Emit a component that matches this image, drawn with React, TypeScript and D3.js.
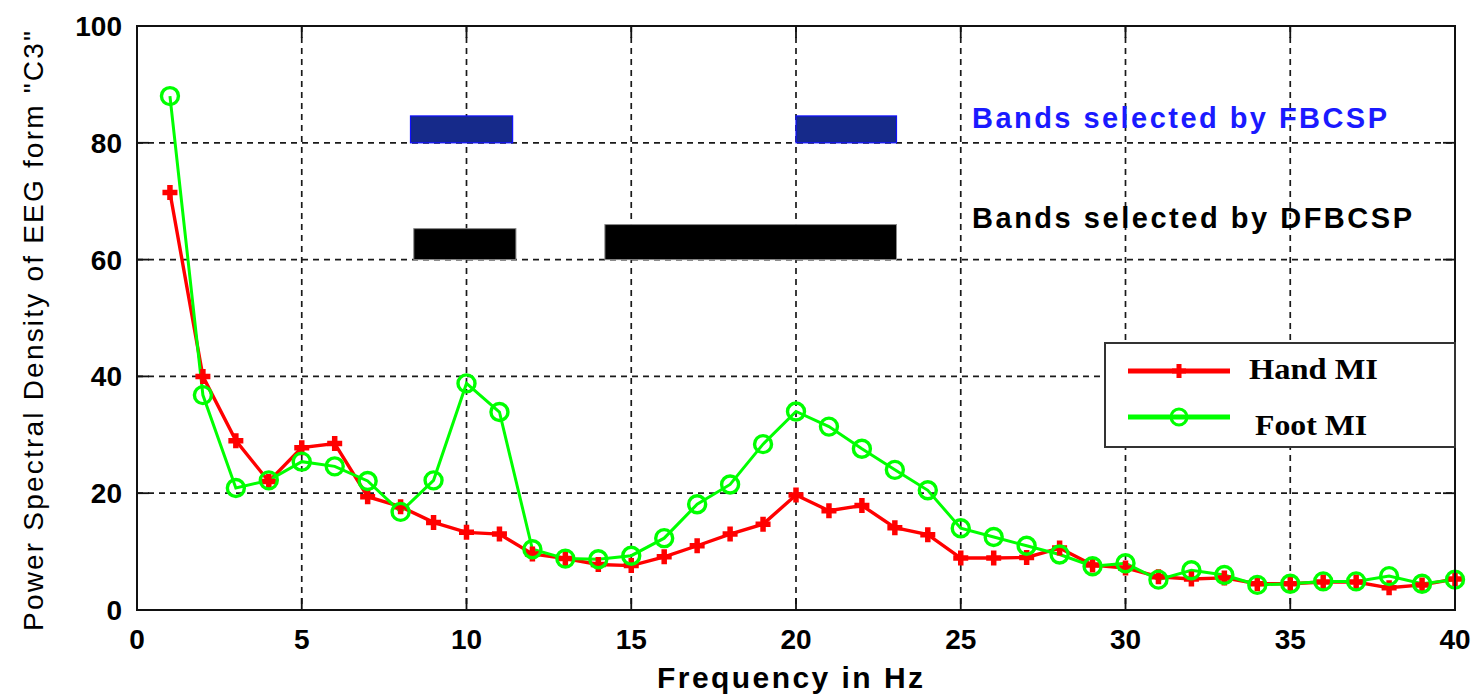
import React, { useEffect, useRef } from "react";
import * as d3 from "d3";

const freqs = [1, 2, 3, 4, 5, 6, 7, 8, 9, 10, 11, 12, 13, 14, 15, 16, 17, 18, 19, 20,
  21, 22, 23, 24, 25, 26, 27, 28, 29, 30, 31, 32, 33, 34, 35, 36, 37, 38, 39, 40];
const handMI = [71.5, 40, 29, 22, 27.8, 28.5, 19.4, 17.7, 15, 13.3, 13, 9.6, 8.8, 7.8, 7.6, 9.1, 11, 13, 14.7, 19.7,
  17, 17.9, 14.1, 12.9, 8.9, 8.9, 9, 10.6, 7.7, 7.2, 5.7, 5.3, 5.5, 4.5, 4.5, 4.8, 4.8, 3.8, 4.3, 5.3];
const footMI = [88, 36.8, 20.9, 22.2, 25.4, 24.6, 22.1, 16.8, 22.2, 38.8, 33.9, 10.4, 8.8, 8.7, 9.3, 12.3, 18.1, 21.5, 28.4, 34,
  31.4, 27.6, 24, 20.5, 14, 12.5, 11, 9.5, 7.5, 8, 5.2, 6.8, 6, 4.3, 4.5, 4.9, 4.9, 5.8, 4.5, 5.2];

// selected bands: [start Hz, end Hz, bottom, top]
const fbcspBands = [[8.3, 11.4, 80, 84.6], [20, 23.05, 80, 84.6]];
const dfbcspBands = [[8.4, 11.5, 60, 65.3], [14.2, 23.05, 60, 66]];

const xTicks = [0, 5, 10, 15, 20, 25, 30, 35, 40];
const yTicks = [0, 20, 40, 60, 80, 100];

export default function App() {
  const ref = useRef<SVGSVGElement>(null);

  useEffect(() => {
    const width = 1474, height = 694;
    const m = { left: 137, right: 1455, top: 26, bottom: 610 };
    const svg = d3.select(ref.current);
    svg.selectAll("*").remove();

    const x = d3.scaleLinear().domain([0, 40]).range([m.left, m.right]);
    const y = d3.scaleLinear().domain([0, 100]).range([m.bottom, m.top]);
    const font = "Arial, 'Liberation Sans', sans-serif";

    svg.append("rect").attr("width", width).attr("height", height).attr("fill", "#fff");

    // grid
    const grid = svg.append("g").attr("stroke", "#1a1a1a").attr("stroke-width", 1.7).attr("stroke-dasharray", "6,5");
    grid.selectAll("line.vx").data(xTicks.slice(1, -1)).enter().append("line")
      .attr("x1", d => x(d)).attr("x2", d => x(d)).attr("y1", m.top).attr("y2", m.bottom);
    grid.selectAll("line.hy").data(yTicks.slice(1, -1)).enter().append("line")
      .attr("y1", d => y(d)).attr("y2", d => y(d)).attr("x1", m.left).attr("x2", m.right);

    // bands
    svg.selectAll("rect.fb").data(fbcspBands).enter().append("rect")
      .attr("x", d => x(d[0])).attr("width", d => x(d[1]) - x(d[0]))
      .attr("y", d => y(d[3])).attr("height", d => y(d[2]) - y(d[3]))
      .attr("fill", "#162a8a").attr("stroke", "#1010ff").attr("stroke-width", 1.2);
    svg.selectAll("rect.dfb").data(dfbcspBands).enter().append("rect")
      .attr("x", d => x(d[0])).attr("width", d => x(d[1]) - x(d[0]))
      .attr("y", d => y(d[3])).attr("height", d => y(d[2]) - y(d[3]))
      .attr("fill", "#000").attr("stroke", "#888").attr("stroke-width", 1);

    svg.append("text").attr("x", 972).attr("y", 128)
      .attr("font-family", font).attr("font-weight", "bold")
      .attr("font-size", 29).attr("fill", "#1a1aff")
      .attr("textLength", 415).attr("lengthAdjust", "spacing")
      .text("Bands selected by FBCSP");
    svg.append("text").attr("x", 972).attr("y", 228)
      .attr("font-family", font).attr("font-weight", "bold")
      .attr("font-size", 29).attr("fill", "#000")
      .attr("textLength", 440).attr("lengthAdjust", "spacing")
      .text("Bands selected by DFBCSP");

    // series
    const line = d3.line<number>().x((d, i) => x(freqs[i])).y(d => y(d));
    svg.append("path").datum(handMI).attr("d", line).attr("fill", "none")
      .attr("stroke", "#ff0000").attr("stroke-width", 3.4);
    svg.append("path").datum(footMI).attr("d", line).attr("fill", "none")
      .attr("stroke", "#00ff00").attr("stroke-width", 3);

    const plus = (s: number) => `M${-s},0H${s}M0,${-s}V${s}`;
    svg.selectAll("path.hm").data(handMI).enter().append("path")
      .attr("transform", (d, i) => `translate(${x(freqs[i])},${y(d)})`)
      .attr("d", plus(7.5)).attr("stroke", "#ff0000").attr("stroke-width", 5.5).attr("fill", "none");
    svg.selectAll("circle.fm").data(footMI).enter().append("circle")
      .attr("cx", (d, i) => x(freqs[i])).attr("cy", d => y(d)).attr("r", 8.5)
      .attr("fill", "none").attr("stroke", "#00ff00").attr("stroke-width", 3.4);

    // axes box + inward ticks
    svg.append("rect").attr("x", m.left).attr("y", m.top)
      .attr("width", m.right - m.left).attr("height", m.bottom - m.top)
      .attr("fill", "none").attr("stroke", "#111").attr("stroke-width", 2);
    const tk = svg.append("g").attr("stroke", "#111").attr("stroke-width", 1.8);
    tk.selectAll("line.xb").data(xTicks).enter().append("line")
      .attr("x1", d => x(d)).attr("x2", d => x(d)).attr("y1", m.bottom).attr("y2", m.bottom - 12);
    tk.selectAll("line.xt").data(xTicks).enter().append("line")
      .attr("x1", d => x(d)).attr("x2", d => x(d)).attr("y1", m.top).attr("y2", m.top + 12);
    tk.selectAll("line.yl").data(yTicks).enter().append("line")
      .attr("y1", d => y(d)).attr("y2", d => y(d)).attr("x1", m.left).attr("x2", m.left + 12);
    tk.selectAll("line.yr").data(yTicks).enter().append("line")
      .attr("y1", d => y(d)).attr("y2", d => y(d)).attr("x1", m.right).attr("x2", m.right - 12);

    svg.selectAll("text.xt").data(xTicks).enter().append("text")
      .attr("x", d => x(d)).attr("y", 649).attr("text-anchor", "middle")
      .attr("font-family", font).attr("font-weight", "bold").attr("font-size", 28)
      .text(d => d);
    svg.selectAll("text.yt").data(yTicks).enter().append("text")
      .attr("x", 122).attr("y", d => y(d) + 10).attr("text-anchor", "end")
      .attr("font-family", font).attr("font-weight", "bold").attr("font-size", 28)
      .text(d => d);

    svg.append("text").attr("x", 790).attr("y", 688).attr("text-anchor", "middle")
      .attr("font-family", font).attr("font-weight", "bold").attr("font-size", 30)
      .attr("textLength", 266).attr("lengthAdjust", "spacing")
      .text("Frequency in Hz");
    svg.append("text").attr("transform", `translate(43,${331}) rotate(-90)`)
      .attr("text-anchor", "middle").attr("font-family", font).attr("font-size", 28)
      .attr("textLength", 600).attr("lengthAdjust", "spacing")
      .text('Power Spectral Density of EEG form "C3"');

    // legend
    const lg = svg.append("g");
    lg.append("rect").attr("x", 1105).attr("y", 343).attr("width", 350).attr("height", 104)
      .attr("fill", "#fff").attr("stroke", "#333").attr("stroke-width", 2);
    lg.append("line").attr("x1", 1128).attr("x2", 1230).attr("y1", 371).attr("y2", 371)
      .attr("stroke", "#ff0000").attr("stroke-width", 5);
    lg.append("path").attr("transform", "translate(1179,371)").attr("d", plus(7))
      .attr("stroke", "#ff0000").attr("stroke-width", 5);
    lg.append("line").attr("x1", 1128).attr("x2", 1230).attr("y1", 417).attr("y2", 417)
      .attr("stroke", "#00ff00").attr("stroke-width", 5);
    lg.append("circle").attr("cx", 1179).attr("cy", 417).attr("r", 8)
      .attr("fill", "none").attr("stroke", "#00ff00").attr("stroke-width", 3);
    const serif = "'Times New Roman', 'Liberation Serif', serif";
    lg.append("text").attr("x", 1249).attr("y", 379).attr("font-family", serif).attr("font-size", 30)
      .attr("font-weight", "bold")
      .attr("textLength", 129).attr("lengthAdjust", "spacingAndGlyphs").text("Hand MI");
    lg.append("text").attr("x", 1255).attr("y", 435).attr("font-family", serif).attr("font-size", 30)
      .attr("font-weight", "bold")
      .attr("textLength", 112).attr("lengthAdjust", "spacingAndGlyphs").text("Foot MI");
  }, []);

  return (
    <svg ref={ref} width={1474} height={694}
      style={{ position: "absolute", left: 0, top: 0, display: "block" }} />
  );
}
